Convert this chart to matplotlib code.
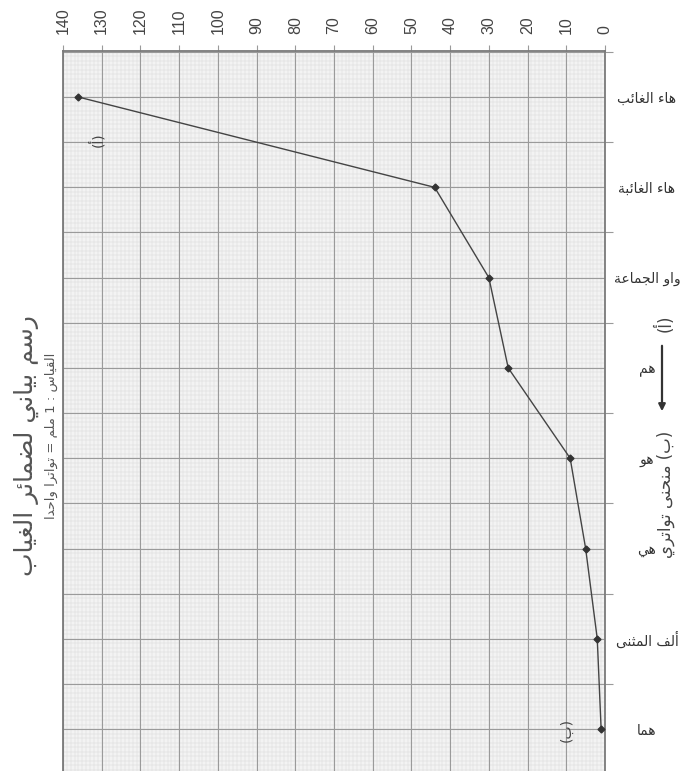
import numpy as np
import matplotlib
matplotlib.use('Agg')
import matplotlib.pyplot as plt
import matplotlib.ticker as ticker

# data (value axis reads 140 -> 0 from left to right)
categories = ['هاء الغائب', 'هاء الغائبة', 'واو الجماعة', 'هم', 'هو', 'هي', 'ألف المثنى', 'هما']
counts = [136, 44, 30, 25, 9, 5, 2, 1]
value_ticks = list(range(0, 141, 10))
title = 'رسم بياني لضمائر الغياب'
subtitle = 'القياس : 1 ملم = تواترا واحدا'
note_a = '(أ)'
note_b = '(ب)'
note_curve = '(ب) منحنى تواتري'

# matplotlib does no arabic joining / bidi, so pick presentation forms by hand
# letter -> (isolated form code point, number of forms)
_AR = {'ء': (0xFE80, 1), 'آ': (0xFE81, 2), 'أ': (0xFE83, 2), 'ؤ': (0xFE85, 2), 'إ': (0xFE87, 2),
       'ئ': (0xFE89, 4), 'ا': (0xFE8D, 2), 'ب': (0xFE8F, 4), 'ة': (0xFE93, 2), 'ت': (0xFE95, 4),
       'ث': (0xFE99, 4), 'ج': (0xFE9D, 4), 'ح': (0xFEA1, 4), 'خ': (0xFEA5, 4), 'د': (0xFEA9, 2),
       'ذ': (0xFEAB, 2), 'ر': (0xFEAD, 2), 'ز': (0xFEAF, 2), 'س': (0xFEB1, 4), 'ش': (0xFEB5, 4),
       'ص': (0xFEB9, 4), 'ض': (0xFEBD, 4), 'ط': (0xFEC1, 4), 'ظ': (0xFEC5, 4), 'ع': (0xFEC9, 4),
       'غ': (0xFECD, 4), 'ف': (0xFED1, 4), 'ق': (0xFED5, 4), 'ك': (0xFED9, 4), 'ل': (0xFEDD, 4),
       'م': (0xFEE1, 4), 'ن': (0xFEE5, 4), 'ه': (0xFEE9, 4), 'و': (0xFEED, 2), 'ى': (0xFEEF, 2),
       'ي': (0xFEF1, 4)}
_MIRROR = {'(': ')', ')': '('}


def shape(s):
    out = []
    for i, ch in enumerate(s):
        if ch not in _AR:
            out.append(_MIRROR.get(ch, ch))
            continue
        base, n = _AR[ch]
        prev = s[i - 1] if i > 0 else ''
        nxt = s[i + 1] if i + 1 < len(s) else ''
        jp = n > 1 and prev in _AR and _AR[prev][1] == 4
        jn = n == 4 and nxt in _AR and _AR[nxt][1] > 1
        off = 3 if (jp and jn) else 1 if jp else 2 if jn else 0
        out.append(chr(base + off))
    return ''.join(reversed(out))


plt.rcParams['font.family'] = ['Liberation Sans', 'DejaVu Sans']
W, H = 691, 771
PX = 72 / 100  # points per pixel
fig = plt.figure(figsize=(W / 100, H / 100), dpi=100)
fig.patch.set_facecolor('white')

# axes box in pixels: left 63, right 605, top 51, runs off the bottom
ax = fig.add_axes([63 / W, -15 / H, 542 / W, (H - 51 + 15) / H])
ax.set_facecolor('#f3f3f3')
ypos = np.arange(len(categories))
ax.set_xlim(140, 0)
ax.set_ylim(7.63, -0.51)

# mm paper
ax.vlines(np.arange(0, 141, 1), -0.51, 7.63, color='#d9d9d9', lw=0.35, zorder=0)
ax.hlines(np.arange(-0.5, 7.7, 0.05), 0, 140, color='#d9d9d9', lw=0.35, zorder=0)

ax.xaxis.set_major_locator(ticker.FixedLocator(value_ticks))
ax.xaxis.tick_top()
ax.tick_params(axis='x', which='major', direction='out', length=4, width=0.8, color='#9a9a9a',
               pad=11 * PX, labelsize=11.5, labelcolor='#444444', labelrotation=90)

ax.set_yticks(ypos)
ax.set_yticklabels([shape(c) for c in categories], family='DejaVu Sans')
ax.yaxis.set_minor_locator(ticker.FixedLocator(np.arange(-0.5, 8, 1)))
ax.yaxis.tick_right()
ax.tick_params(axis='y', which='major', length=0, pad=42 * PX, labelsize=10, labelcolor='#333333')
for lab in ax.get_yticklabels():
    lab.set_horizontalalignment('center')
ax.tick_params(axis='y', which='minor', direction='out', length=6, width=0.8, color='#9a9a9a')

ax.grid(True, which='major', color='#9a9a9a', lw=0.8, zorder=1)
ax.grid(True, which='minor', axis='y', color='#9a9a9a', lw=0.8, zorder=1)
ax.set_axisbelow(True)
for side in ['left', 'right', 'top']:
    ax.spines[side].set_color('#7a7a7a')
    ax.spines[side].set_linewidth(1.3)
ax.spines['bottom'].set_visible(False)

ax.plot(counts, ypos, color='#444444', lw=1.0, marker='D', ms=3.5,
        mfc='#333333', mec='#333333', zorder=3)

# titles on the left, turned like the page
fig.text(26 / W, 1 - 446 / H, shape(title), rotation=90, ha='center', va='center',
         fontsize=18, color='#555555', family='DejaVu Sans')
fig.text(51 / W, 1 - 436 / H, shape(subtitle), rotation=90, ha='center', va='center',
         fontsize=9.5, color='#555555', family='DejaVu Sans')

# hand written notes
hand = dict(rotation=90, ha='center', va='center', color='#444444', family='DejaVu Sans')
fig.text(97 / W, 1 - 140 / H, shape(note_a), fontsize=10, **hand)
fig.text(567 / W, 1 - 730 / H, shape(note_b), fontsize=10, **hand)
fig.text(665 / W, 1 - 323 / H, shape(note_a), fontsize=12, **hand)
fig.text(666 / W, 1 - 494 / H, shape(note_curve), fontsize=12, **hand)
fig.patches.append(matplotlib.patches.FancyArrowPatch(
    (662 / W, 1 - 343 / H), (662 / W, 1 - 414 / H), transform=fig.transFigure,
    arrowstyle='-|>', mutation_scale=10, color='#333333', lw=1.6))

fig.savefig('out.png', dpi=100)
